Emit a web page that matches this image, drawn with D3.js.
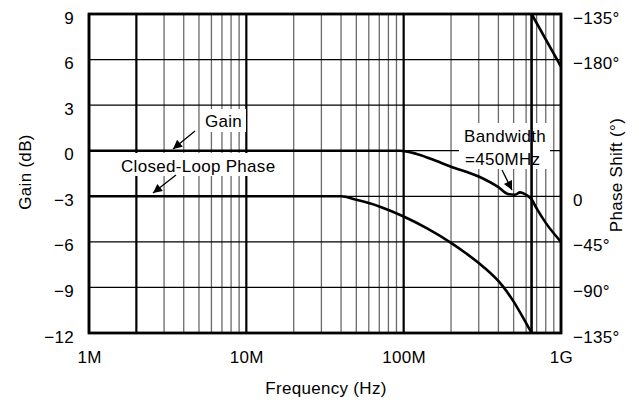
<!DOCTYPE html>
<html>
<head>
<meta charset="utf-8" />
<title></title>
<style>
html, body {
    padding: 0px;
    margin: 0px;
    background: #fff;
}
svg text {
    font-family: "Liberation Sans", Arial, sans-serif;
    font-size: 17px;
    letter-spacing: 0.3px;
    fill: #000;
}
</style>
</head>
<body>
<svg id="chart" width="639" height="403"></svg>
<script src="https://cdnjs.cloudflare.com/ajax/libs/d3/7.8.5/d3.min.js"></script>
<script>
// values
var xTicks = [1e6, 1e7, 1e8, 1e9];
var xTickLabels = ["1M", "10M", "100M", "1G"];
var gainTicks = [9, 6, 3, 0, -3, -6, -9, -12];
var gainTickLabels = ["9", "6", "3", "0", "\u22123", "\u22126", "\u22129", "\u221212"];
var phaseTicks = [180, 135, 0, -45, -90, -135];
var phaseTickLabels = ["\u2212135\u00b0", "\u2212180\u00b0", "0", "\u221245\u00b0", "\u221290\u00b0", "\u2212135\u00b0"];

var gainFreq = [1e6, 9.5e7, 1.2e8, 1.5e8, 2e8, 3e8, 4e8, 4.6e8, 5.1e8, 5.5e8, 6e8, 6.5e8, 7e8, 8e8, 1e9];
var gainDb   = [0,   0,     -0.2,  -0.55, -1.05, -1.7, -2.4, -2.85, -2.9, -2.74, -2.9, -3.2, -3.8, -4.75, -6];

var phaseFreq = [1e6, 4e7, 5e7, 7e7, 1e8, 1.4e8, 2e8, 2.5e8, 3.2e8, 4.2e8, 5e8, 5.75e8, 6.35e8, 6.5e8, 1e9];
var phaseDeg  = [0,   0,   -3.5, -10, -20, -31.5, -46, -56.5, -69.5, -87.5, -104, -120, -132, -135, -187];

!(function(){
    "use strict"

    var svg = d3.select("#chart");
    var left = 89, right = 561, top = 14, bottom = 333;

    var x = d3.scaleLog().domain([1e6, 1e9]).range([left, right]);
    var y = d3.scaleLinear().domain([-12, 9]).range([bottom, top]);
    var yPhase = d3.scaleLinear().domain([-135, 180]).range([bottom, top]);

    // vertical grid
    var minor = [];
    [1e6, 1e7, 1e8].forEach(function(d){
        for (var k = 2; k <= 9; k++) minor.push(d * k);
    });
    var grid = svg.append("g");
    grid.selectAll("line.minor")
        .data(minor)
        .enter().append("line")
        .attr("x1", function(d){ return x(d); })
        .attr("x2", function(d){ return x(d); })
        .attr("y1", top).attr("y2", bottom)
        .attr("stroke", function(d){ return d === 2e6 ? "#000" : "#6a6a6a"; })
        .attr("stroke-width", function(d){ return d === 2e6 ? 2.2 : 1.3; });
    grid.selectAll("line.major")
        .data(xTicks)
        .enter().append("line")
        .attr("x1", function(d){ return x(d); })
        .attr("x2", function(d){ return x(d); })
        .attr("y1", top).attr("y2", bottom)
        .attr("stroke", "#000")
        .attr("stroke-width", 2.2);
    grid.selectAll("line.h")
        .data(gainTicks)
        .enter().append("line")
        .attr("x1", left).attr("x2", right)
        .attr("y1", function(d){ return y(d); })
        .attr("y2", function(d){ return y(d); })
        .attr("stroke", "#000")
        .attr("stroke-width", 1.3);

    // white boxes behind the notes
    var boxes = [[118, 153, 162, 23], [202, 109, 44, 23], [459, 123, 91, 46]];
    svg.selectAll("rect.box")
        .data(boxes)
        .enter().append("rect")
        .attr("x", function(d){ return d[0]; })
        .attr("y", function(d){ return d[1]; })
        .attr("width", function(d){ return d[2]; })
        .attr("height", function(d){ return d[3]; })
        .attr("fill", "#fff");

    // curves
    var smooth = d3.line()
        .x(function(d){ return x(d[0]); })
        .y(function(d){ return d[1]; })
        .curve(d3.curveMonotoneX);

    function drawCurve(pts) {
        svg.append("path")
            .attr("d", smooth(pts))
            .attr("fill", "none").attr("stroke", "#000")
            .attr("stroke-width", 2.6).attr("stroke-linejoin", "round");
    }

    drawCurve(gainFreq.map(function(f, i){ return [f, y(gainDb[i])]; }));

    // phase wraps from the bottom edge to the top edge at -135°
    var lower = [], upper = [], wrapF;
    phaseFreq.forEach(function(f, i){
        var p = phaseDeg[i];
        if (p >= -135) lower.push([f, yPhase(p)]);
        if (p === -135) { wrapF = f; upper.push([f, yPhase(180)]); }
        if (p < -135) upper.push([f, yPhase(p + 315)]);
    });
    drawCurve(lower);
    drawCurve(upper);
    svg.append("line")
        .attr("x1", x(wrapF)).attr("x2", x(wrapF))
        .attr("y1", yPhase(-135)).attr("y2", yPhase(180))
        .attr("stroke", "#000").attr("stroke-width", 2.6);

    // frame
    svg.append("rect")
        .attr("x", left).attr("y", top)
        .attr("width", right - left).attr("height", bottom - top)
        .attr("fill", "none").attr("stroke", "#000").attr("stroke-width", 2.8);

    // axes
    var xAxis = svg.append("g")
        .attr("transform", "translate(0," + bottom + ")")
        .call(d3.axisBottom(x).tickValues(xTicks).tickSize(0).tickPadding(18)
            .tickFormat(function(d, i){ return xTickLabels[i]; }));
    var yAxis = svg.append("g")
        .attr("transform", "translate(" + left + ",0)")
        .call(d3.axisLeft(y).tickValues(gainTicks).tickSize(0).tickPadding(15)
            .tickFormat(function(d, i){ return gainTickLabels[i]; }));
    var yAxisR = svg.append("g")
        .attr("transform", "translate(" + right + ",0)")
        .call(d3.axisRight(yPhase).tickValues(phaseTicks).tickSize(0).tickPadding(12)
            .tickFormat(function(d, i){ return phaseTickLabels[i]; }));
    [xAxis, yAxis, yAxisR].forEach(function(a){
        a.select(".domain").remove();
        a.selectAll("text").attr("font-family", null).attr("font-size", null);
    });
    yAxis.selectAll("text").attr("dy", "0.53em");
    yAxisR.selectAll("text").attr("dy", "0.53em");

    svg.append("text")
        .attr("x", 326).attr("y", 394)
        .attr("text-anchor", "middle")
        .text("Frequency (Hz)");
    svg.append("text")
        .attr("transform", "translate(31,172) rotate(-90)")
        .attr("text-anchor", "middle")
        .text("Gain (dB)");
    svg.append("text")
        .attr("transform", "translate(622,175) rotate(-90)")
        .attr("text-anchor", "middle")
        .text("Phase Shift (\u00b0)");

    // notes
    svg.append("text").attr("x", 205).attr("y", 127).text("Gain");
    svg.append("text").attr("x", 121).attr("y", 172).text("Closed-Loop Phase");
    svg.append("text").attr("x", 464).attr("y", 142).text("Bandwidth");
    svg.append("text").attr("x", 465).attr("y", 165).text("=450MHz");

    var defs = svg.append("defs");
    defs.append("marker")
        .attr("id", "head")
        .attr("viewBox", "0 0 10 10")
        .attr("refX", 10).attr("refY", 5)
        .attr("markerWidth", 12).attr("markerHeight", 9)
        .attr("markerUnits", "userSpaceOnUse")
        .attr("orient", "auto")
        .append("path")
        .attr("d", "M0,0 L10,5 L0,10 Z")
        .attr("fill", "#000");

    var arrows = [[195, 131, 173, 149], [176, 175, 153, 193], [502, 170, 512, 190]];
    svg.selectAll("line.arrow")
        .data(arrows)
        .enter().append("line")
        .attr("x1", function(d){ return d[0]; })
        .attr("y1", function(d){ return d[1]; })
        .attr("x2", function(d){ return d[2]; })
        .attr("y2", function(d){ return d[3]; })
        .attr("stroke", "#000").attr("stroke-width", 1.3)
        .attr("marker-end", "url(#head)");
}());
</script>
</body>
</html>
